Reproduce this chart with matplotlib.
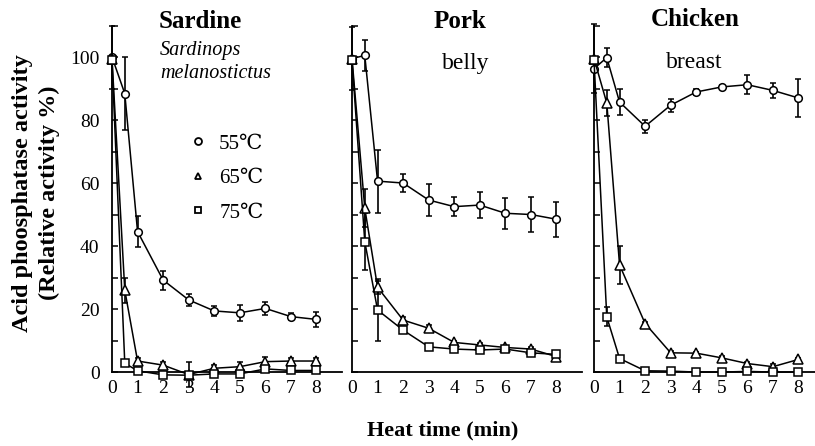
import matplotlib
matplotlib.use("Agg")
import matplotlib.pyplot as plt
from matplotlib.lines import Line2D

plt.rcParams['font.family'] = ['Liberation Serif', 'DejaVu Serif']

# heating time (min)
t = [0, 0.5, 1, 2, 3, 4, 5, 6, 7, 8]

# Sardine
sardine_55 = [100, 88.4, 44.6, 29.2, 22.9, 19.4, 18.8, 20.2, 17.6, 16.7]
sardine_55_err = [10, 11.6, 5, 3, 2, 1.5, 2.5, 2, 1, 2.3]
sardine_65 = [99.5, 26, 3.5, 2.2, -0.8, 1.2, 1.7, 3.3, 3.5, 3.5]
sardine_65_err = [0, 4, 1, 1, 4, 1, 1.5, 1.5, 1, 1]
sardine_75 = [99, 2.8, 0.4, -0.9, -1, -0.6, -0.6, 1, 0.5, 0.5]
sardine_75_err = [0, 0, 0, 0, 0, 0, 0, 0, 0, 0]

# Pork belly
pork_55 = [99.5, 100.5, 60.6, 60, 54.6, 52.5, 53, 50.4, 50, 48.5]
pork_55_err = [10, 5, 10, 3, 5, 3, 4, 5, 5.5, 5.5]
pork_65 = [99.5, 52, 26.9, 16.5, 13.9, 9.4, 8.6, 7.8, 7.3, 4.9]
pork_65_err = [0, 6, 2, 1, 1, 0.5, 0.5, 0.5, 0.5, 0.5]
pork_75 = [99, 41.4, 19.7, 13.3, 8, 7.3, 7, 7.3, 6.1, 5.6]
pork_75_err = [0, 9, 9.7, 0.5, 0.5, 0.5, 0, 0, 0, 0]

# Chicken breast
chicken_55 = [96.3, 99.8, 85.7, 78, 84.7, 88.9, 90.5, 91.2, 89.4, 87]
chicken_55_err = [0, 3, 4, 2, 2, 1, 0.5, 3, 2.5, 6]
chicken_65 = [99.5, 85.4, 34, 15.4, 6.1, 6, 4.5, 2.7, 1.7, 4]
chicken_65_err = [11, 4, 6, 0.5, 0.5, 0.5, 0.5, 0.5, 1, 0.5]
chicken_75 = [99, 17.5, 4.3, 0.4, 0.3, 0, 0, 0.2, 0, 0]
chicken_75_err = [0, 3, 0, 0, 0, 0, 0, 0, 0, 0]

temps = ['55℃', '65℃', '75℃']
markers = ['o', '^', 's']
msizes = [5.5, 7.5, 5.5]

panels = [
    ('Sardine', [(sardine_55, sardine_55_err), (sardine_65, sardine_65_err), (sardine_75, sardine_75_err)]),
    ('Pork', [(pork_55, pork_55_err), (pork_65, pork_65_err), (pork_75, pork_75_err)]),
    ('Chicken', [(chicken_55, chicken_55_err), (chicken_65, chicken_65_err), (chicken_75, chicken_75_err)]),
]

W, H = 815, 446
fig = plt.figure(figsize=(W/100, H/100), dpi=100)

lefts = [112, 352, 594]
axw = 230
bot = 381.5
top = 25.5
axes = []
for i, (name, series) in enumerate(panels):
    ax = fig.add_axes([lefts[i]/W, (H-bot)/H, axw/W, (bot-top)/H])
    for (vals, err), m, ms in zip(series, markers, msizes):
        ax.errorbar(t, vals, yerr=err, color='black', lw=1.1, elinewidth=1.2,
                    capsize=2.5, capthick=1.2, marker=m, ms=ms, mfc='white',
                    mec='black', mew=1.1, clip_on=False, zorder=3)
    ax.set_xlim(0, 9)
    ax.set_ylim(-3, 110)
    ax.spines['top'].set_visible(False)
    ax.spines['right'].set_visible(False)
    ax.spines['bottom'].set_position(('data', 0))
    ax.spines['left'].set_bounds(0, 110)
    ax.spines['left'].set_linewidth(1.3)
    ax.spines['bottom'].set_linewidth(1.3)
    ax.set_xticks(range(9))
    ax.tick_params(axis='x', length=0, pad=6, labelsize=14)
    ax.set_yticks(range(0, 101, 20))
    ax.set_yticks(range(10, 111, 20), minor=True)
    ax.tick_params(axis='y', which='both', direction='in', length=4, width=1.1,
                   pad=9, labelsize=14)
    if i > 0:
        ax.tick_params(axis='y', labelleft=False)
    axes.append(ax)

# panel titles
fig.text(200/W, 1-21/H, 'Sardine', ha='center', va='center', fontsize=18, fontweight='bold')
fig.text(460/W, 1-21/H, 'Pork', ha='center', va='center', fontsize=18, fontweight='bold')
fig.text(695/W, 1-19/H, 'Chicken', ha='center', va='center', fontsize=18, fontweight='bold')
fig.text(160/W, 1-51/H, 'Sardinops', ha='left', va='center', fontsize=14.5, style='italic')
fig.text(160/W, 1-73/H, 'melanostictus', ha='left', va='center', fontsize=14.5, style='italic')
fig.text(466/W, 1-63/H, 'belly', ha='center', va='center', fontsize=17)
fig.text(694/W, 1-62/H, 'breast', ha='center', va='center', fontsize=17)

# legend
handles = [Line2D([], [], ls='none', marker=m, ms=5, mfc='white', mec='black', mew=1.3)
           for m in markers]
axes[0].legend(handles, temps, loc='upper left', bbox_to_anchor=(190/W, 1-134/H),
               bbox_transform=fig.transFigure, frameon=False, fontsize=15,
               handlelength=0.8, handletextpad=0.6, labelspacing=0.72,
               borderpad=0, borderaxespad=0)

fig.text(36/W, 1-193/H, 'Acid phoosphatase activity\n(Relative activity %)',
         rotation=90, ha='center', va='center', fontsize=17.5, fontweight='bold',
         multialignment='center', linespacing=1.3)
fig.text(443/W, 1-430/H, 'Heat time (min)', ha='center', va='center',
         fontsize=16, fontweight='bold')

plt.savefig('out.png', dpi=100)
